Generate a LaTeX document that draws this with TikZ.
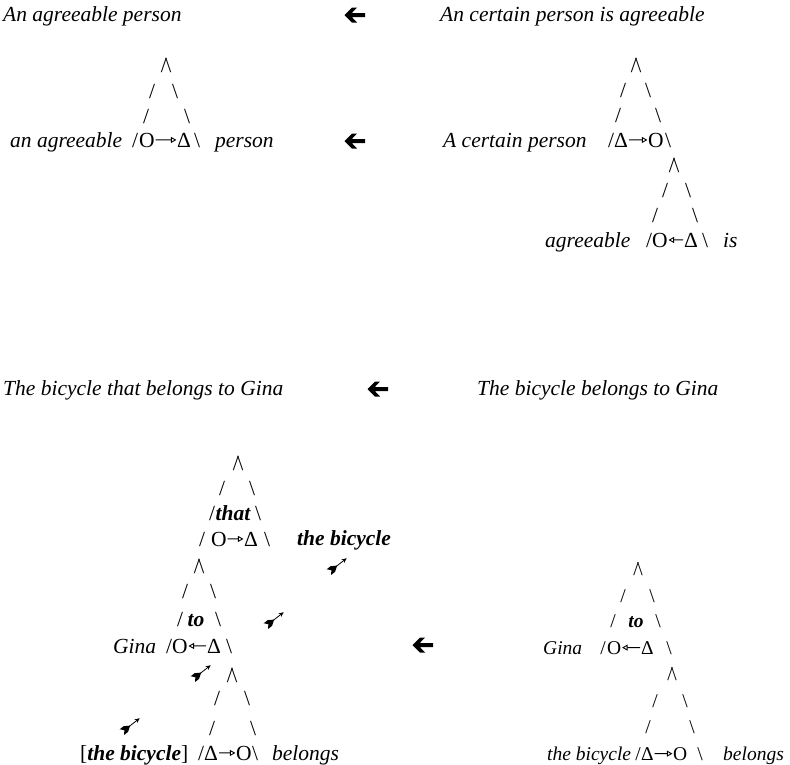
\documentclass[tikz,border=0pt]{standalone}
\usepackage{fontspec}
\setmainfont{Liberation Serif}
\usetikzlibrary{arrows.meta}
\newcommand\dgfs{\fontsize{21.5pt}{26pt}\selectfont}
\newcommand\cursz{\dgfs}
\tikzset{
  sl/.style={anchor=base},
  tx/.style={anchor=base west, font=\cursz\itshape},
  bx/.style={anchor=base west, font=\cursz\bfseries\itshape},
  bc/.style={anchor=base, font=\cursz\bfseries\itshape},
  gl/.style={anchor=base west},
  oarr/.style={line width=1pt, -{Triangle[open,length=5.5pt,width=6pt,line width=0.9pt]}, shorten <=0.8pt, shorten >=0.6pt},
  bigarr/.pic={\fill (-10.5,0) -- (-3,-7.5) -- (2,-7.5) -- (-3.2,-2) -- (10,-2) -- (10,2) -- (-3.2,2) -- (2,7.5) -- (-3,7.5) -- cycle;},
  feather/.pic={\draw[line width=0.8pt,-{Stealth[length=5pt,width=4.5pt]}] (-3,0) -- (11,0);
    \fill (-11.5,-3.6) -- (-6.5,-3.6) -- (-1,0) -- (-6.5,3.6) -- (-11.5,3.6) -- (-8.5,0) -- cycle;}
}
\newcommand\bs{\textbackslash}
\newcommand\apx{/\kern-1.5pt\textbackslash}
\begin{document}
\begin{tikzpicture}[x=1pt,y=-1pt,every node/.style={inner sep=0pt,font=\cursz}]
\useasboundingbox (0,0) rectangle (790,764);
% ---------- top left
\node[tx] (t1) at (3,21) {An agreeable person};
\pic at (355,15) {bigarr};
\node[sl] (a1) at (166,72) {\apx};
\node[sl] (a1l2) at (152,98) {/}; \node[sl] (a1r2) at (175,98) {\bs};
\node[sl] (a1l3) at (146,123) {/}; \node[sl] (a1r3) at (187,123) {\bs};
\node[tx] (w1) at (10,147) {an agreeable};
\node[sl] (a1l4) at (135,147) {/};
\node[gl] (o1) at (139,147) {O};
\node[gl] (d1) at (177,147) {Δ};
\node[sl] (a1r4) at (197,147) {\bs};
\node[tx] (w2) at (215,147) {person};
\draw[oarr] (o1) -- (d1);
\pic at (355,141) {bigarr};
% ---------- top right
\node[tx] (t2) at (440,21) {An certain person is agreeable};
\node[sl] (a2) at (636,72) {\apx};
\node[sl] (a2l2) at (623,97) {/}; \node[sl] (a2r2) at (648,97) {\bs};
\node[sl] (a2l3) at (618,122) {/}; \node[sl] (a2r3) at (658,122) {\bs};
\node[tx] (w3) at (443,147) {A certain person};
\node[sl] (a2l4) at (611,147) {/};
\node[gl] (d2) at (614,147) {Δ};
\node[gl] (o2) at (648,147) {O};
\node[sl] (a2r4) at (668,147) {\bs};
\draw[oarr] (d2) -- (o2);
\node[sl] (a3) at (674,172) {\apx};
\node[sl] (a3l2) at (665,197) {/}; \node[sl] (a3r2) at (688,197) {\bs};
\node[sl] (a3l3) at (655,222) {/}; \node[sl] (a3r3) at (695,222) {\bs};
\node[tx] (w4) at (545,247) {agreeable};
\node[sl] (a3l4) at (649,247) {/};
\node[gl] (o3) at (652,247) {O};
\node[gl] (d3) at (684,247) {Δ};
\node[sl] (a3r4) at (705,247) {\bs};
\node[tx] (w5) at (723,247) {is};
\draw[oarr] (d3) -- (o3);
% ---------- bottom left
\node[tx] (t3) at (3,395) {The bicycle that belongs to Gina};
\pic at (378,389) {bigarr};
\node[sl] (b1) at (238,470) {\apx};
\node[sl] (b1l2) at (222,495) {/}; \node[sl] (b1r2) at (252,495) {\bs};
\node[sl] (b1l3) at (212,520) {/}; \node[bc] (that) at (233,520) {that}; \node[sl] (b1r3) at (258,520) {\bs};
\node[sl] (b1l4) at (202,546) {/};
\node[gl] (o4) at (211,546) {O};
\node[gl] (d4) at (244,546) {Δ};
\node[sl] (b1r4) at (267,546) {\bs};
\draw[oarr] (o4) -- (d4);
\node[bx] (tb1) at (297,545) {the bicycle};
\pic[rotate=38] at (338,565) {feather};
\node[sl] (b2) at (199,573) {\apx};
\node[sl] (b2l2) at (185,598) {/}; \node[sl] (b2r2) at (213,598) {\bs};
\node[sl] (b2l3) at (180,626) {/}; \node[bc] (to1) at (196,626) {to}; \node[sl] (b2r3) at (218,626) {\bs};
\pic[rotate=38] at (275,619) {feather};
\node[tx] (g1) at (113,653) {Gina};
\node[sl] (b2l4) at (169,653) {/};
\node[gl] (o5) at (172,653) {O};
\node[gl] (d5) at (207,653) {Δ};
\node[sl] (b2r4) at (229,653) {\bs};
\draw[oarr] (d5) -- (o5);
\pic[rotate=38] at (202,672) {feather};
\node[sl] (b3) at (232,682) {\apx};
\node[sl] (b3l2) at (217,705) {/}; \node[sl] (b3r2) at (247,705) {\bs};
\node[sl] (b3l3) at (212,735) {/}; \node[sl] (b3r3) at (253,735) {\bs};
\pic[rotate=38] at (131,725) {feather};
\node[gl] (tb2) at (80,760) {[\textbf{\textit{the bicycle}}]};
\node[sl] (b3l4) at (201,760) {/};
\node[gl] (d6) at (204,760) {Δ};
\node[gl] (o6) at (236,760) {O};
\node[sl] (b3r4) at (255,760) {\bs};
\node[tx] (bel1) at (272,760) {belongs};
\draw[oarr] (d6) -- (o6);
% ---------- bottom right
\node[tx] (t4) at (477,395) {The bicycle belongs to Gina};
\pic at (423,645) {bigarr};
\begin{scope}
\renewcommand\cursz{\fontsize{19.5pt}{24pt}\selectfont}
\node[sl] (c1) at (638,575) {\apx};
\node[sl] (c1l2) at (623,602) {/}; \node[sl] (c1r2) at (652,602) {\bs};
\node[sl] (c1l3) at (613,627) {/}; \node[bc] (to2) at (636,627) {to}; \node[sl] (c1r3) at (658,627) {\bs};
\node[tx] (g2) at (543,654) {Gina};
\node[sl] (c1l4) at (603,654) {/};
\node[gl] (o7) at (607,654) {O};
\node[gl] (d7) at (641,654) {Δ};
\node[sl] (c1r4) at (669,654) {\bs};
\draw[oarr] (d7) -- (o7);
\node[sl] (c2) at (672,680) {\apx};
\node[sl] (c2l2) at (655,707) {/}; \node[sl] (c2r2) at (685,707) {\bs};
\node[sl] (c2l3) at (648,733) {/}; \node[sl] (c2r3) at (692,733) {\bs};
\node[tx] (tb3) at (547,760) {the bicycle};
\node[sl] (c2l4) at (638,760) {/};
\node[gl] (d8) at (641,760) {Δ};
\node[gl] (o8) at (673,760) {O};
\node[sl] (c2r4) at (700,760) {\bs};
\node[tx] (bel2) at (723,760) {belongs};
\draw[oarr] (d8) -- (o8);
\end{scope}
\end{tikzpicture}
\end{document}
